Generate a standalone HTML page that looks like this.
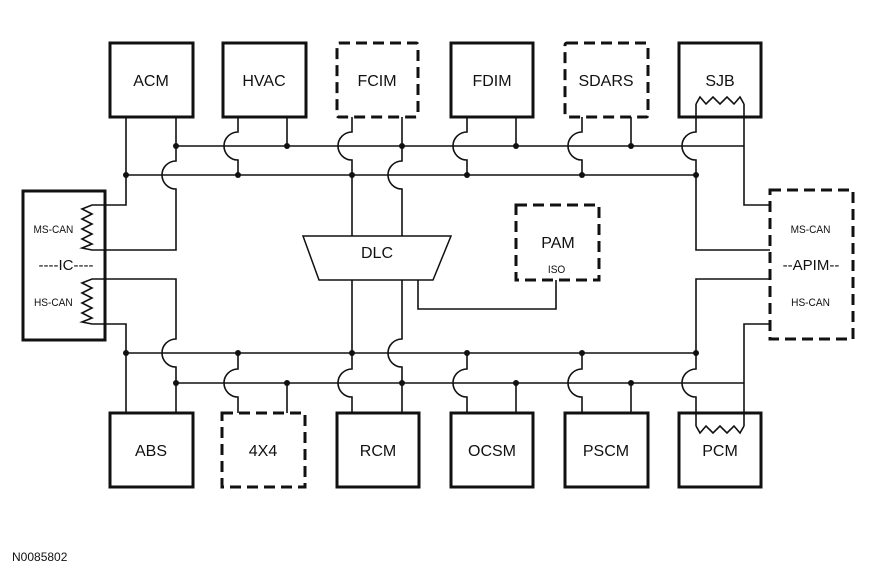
<!DOCTYPE html>
<html><head><meta charset="utf-8"><style>
html,body{margin:0;padding:0;background:#fff;}
svg{display:block;}
text{font-family:"Liberation Sans",Arial,sans-serif;fill:#111;}
</style></head><body>
<svg width="870" height="570" viewBox="0 0 870 570" xmlns="http://www.w3.org/2000/svg">
<g fill="#fff" stroke="#111" stroke-width="3">
<rect x="110" y="43" width="83" height="74"/>
<rect x="223" y="43" width="83" height="74"/>
<rect x="337" y="43" width="81" height="74" stroke-dasharray="11 6" rx="2"/>
<rect x="451" y="43" width="82" height="74"/>
<rect x="565" y="43" width="83" height="74" stroke-dasharray="11 6" rx="2"/>
<rect x="679" y="43" width="82" height="74"/>
<rect x="110" y="413" width="83" height="74"/>
<rect x="222" y="413" width="83" height="74" stroke-dasharray="11 6"/>
<rect x="337" y="413" width="82" height="74"/>
<rect x="451" y="413" width="82" height="74"/>
<rect x="565" y="413" width="83" height="74"/>
<rect x="679" y="413" width="82" height="74"/>
<rect x="23" y="191" width="82" height="149"/>
<rect x="770" y="190" width="83" height="149" stroke-dasharray="11 6"/>
<rect x="516" y="205" width="83" height="75" stroke-dasharray="11 6"/>
</g>
<polygon points="303,236 451,236 433,280 319,280" fill="#fff" stroke="#111" stroke-width="1.5"/>
<g fill="none" stroke="#111" stroke-width="1.6">
<path d="M176 146 H744 M126 175 H696"/>
<path d="M126 117 V205 H105"/>
<path d="M176 117 V161 A14 14 0 0 0 176 189 V250 H105"/>
<path d="M238 117 V132 A14 14 0 0 0 238 160 V175"/>
<path d="M287 117 V146"/>
<path d="M352 117 V132 A14 14 0 0 0 352 160 V236"/>
<path d="M402 117 V161 A14 14 0 0 0 402 189 V236"/>
<path d="M467 117 V132 A14 14 0 0 0 467 160 V175"/>
<path d="M516 117 V146"/>
<path d="M582 117 V132 A14 14 0 0 0 582 160 V175"/>
<path d="M631 117 V146"/>
<path d="M696 104 V132 A14 14 0 0 0 696 160 V250 H770"/>
<path d="M744 104 V205 H770"/>
<path d="M126 353 H696 M176 383 H744"/>
<path d="M105 324 H126 V413"/>
<path d="M105 279 H176 V339 A14 14 0 0 0 176 367 V413"/>
<path d="M238 353 V369 A14 14 0 0 0 238 397 V413"/>
<path d="M287 383 V413"/>
<path d="M352 280 V369 A14 14 0 0 0 352 397 V413"/>
<path d="M402 280 V339 A14 14 0 0 0 402 367 V413"/>
<path d="M467 353 V369 A14 14 0 0 0 467 397 V413"/>
<path d="M516 383 V413"/>
<path d="M582 353 V369 A14 14 0 0 0 582 397 V413"/>
<path d="M631 383 V413"/>
<path d="M770 279 H696 V369 A14 14 0 0 0 696 397 V426"/>
<path d="M770 324 H744 V426"/>
<path d="M418 280 V309 H556 V280"/>
<path d="M105 205 H92 L82 209 L92 214 L82 219 L92 224 L82 229 L92 234 L82 239 L92 244 L82 248 L92 250 H105"/>
<path d="M105 279 H92 L82 283 L92 288 L82 293 L92 298 L82 303 L92 308 L82 313 L92 318 L82 322 L92 324 H105"/>
<path d="M696 104 L700 97 L706 104 L713 97 L720 104 L727 97 L734 104 L740 97 L744 104"/>
<path d="M696 426 L700 433 L706 426 L713 433 L720 426 L727 433 L734 426 L740 433 L744 426"/>
</g>
<g fill="#111">
<circle cx="176" cy="146" r="3"/><circle cx="287" cy="146" r="3"/><circle cx="402" cy="146" r="3"/><circle cx="516" cy="146" r="3"/><circle cx="631" cy="146" r="3"/>
<circle cx="126" cy="175" r="3"/><circle cx="238" cy="175" r="3"/><circle cx="352" cy="175" r="3"/><circle cx="467" cy="175" r="3"/><circle cx="582" cy="175" r="3"/><circle cx="696" cy="175" r="3"/>
<circle cx="126" cy="353" r="3"/><circle cx="238" cy="353" r="3"/><circle cx="352" cy="353" r="3"/><circle cx="467" cy="353" r="3"/><circle cx="582" cy="353" r="3"/><circle cx="696" cy="353" r="3"/>
<circle cx="176" cy="383" r="3"/><circle cx="287" cy="383" r="3"/><circle cx="402" cy="383" r="3"/><circle cx="516" cy="383" r="3"/><circle cx="631" cy="383" r="3"/>
</g>
<g font-size="16" text-anchor="middle">
<text x="151" y="86">ACM</text>
<text x="264" y="86">HVAC</text>
<text x="377" y="86">FCIM</text>
<text x="492" y="86">FDIM</text>
<text x="606" y="86">SDARS</text>
<text x="720" y="86">SJB</text>
<text x="151" y="456">ABS</text>
<text x="263" y="456">4X4</text>
<text x="378" y="456">RCM</text>
<text x="492" y="456">OCSM</text>
<text x="606" y="456">PSCM</text>
<text x="720" y="456">PCM</text>
<text x="377" y="258">DLC</text>
<text x="558" y="248">PAM</text>
<text x="811" y="270" font-size="15">--APIM--</text>
<text x="66" y="270" font-size="15">----IC----</text>
</g>
<g font-size="11" text-anchor="middle" transform="scale(0.92,1)">
<text x="58" y="233">MS-CAN</text>
<text x="58" y="306">HS-CAN</text>
<text x="881" y="233">MS-CAN</text>
<text x="881" y="306">HS-CAN</text>
<text x="605" y="273">ISO</text>
</g>
<text x="12" y="561" font-size="12">N0085802</text>
</svg>
</body></html>
